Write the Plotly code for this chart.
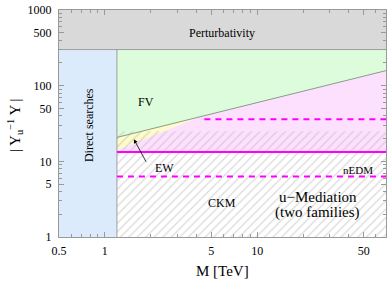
import numpy as np
import plotly.graph_objects as go

# ---- data ----
x_tick_vals = [0.5, 1, 5, 10, 50]
y_tick_vals = [1, 5, 10, 50, 100, 500, 1000]
x_minor = [0.6, 0.7, 0.8, 0.9, 2, 3, 4, 6, 7, 8, 9, 20, 30, 40, 60, 70]
y_minor = [2, 3, 4, 6, 7, 8, 9, 20, 30, 40, 60, 70, 80, 90, 200, 300, 400, 600, 700, 800, 900]

x_range = [0.5, 70]
y_range = [1, 1000]

direct_search_M = 1.2          # TeV
perturbativity_Y = 300

fv_M = [1.2, 4.2, 70]
fv_Y = [20.7, 38.7, 158]

ew_M = [1.2, 4.2]
ew_Y = [14.0, 38.7]

ckm_Y = 25
solid_Y = 13.3
dash_low_Y = 6.3
dash_high_Y = 36
dash_high_start_M = 4.5

SERIF = "Liberation Serif, Times New Roman, serif"
MAG = "#f0f"

fig = go.Figure()

def poly(xs, ys, color, **kw):
    fig.add_trace(go.Scatter(x=xs, y=ys, fill="toself", fillcolor=color,
                             mode="lines", line=dict(width=0), hoverinfo="skip",
                             showlegend=False, **kw))

# perturbativity (gray)
poly([x_range[0], x_range[1], x_range[1], x_range[0]],
     [perturbativity_Y, perturbativity_Y, y_range[1], y_range[1]], "#d9d9d9")
# direct searches (blue)
poly([x_range[0], direct_search_M, direct_search_M, x_range[0]],
     [y_range[0], y_range[0], perturbativity_Y, perturbativity_Y], "#dcebfc")
# FV (green)
poly([direct_search_M] + fv_M[1:] + [x_range[1], direct_search_M],
     [fv_Y[0]] + fv_Y[1:] + [perturbativity_Y, perturbativity_Y], "#dcfcdc")
# EW (yellow)
poly(fv_M[:2] + ew_M[::-1], fv_Y[:2] + ew_Y[::-1], "#fefbc8")
# pink
poly(ew_M + fv_M[2:] + [x_range[1], direct_search_M],
     ew_Y + fv_Y[2:] + [solid_Y, solid_Y], "#fde0fd")
# white below solid
poly([direct_search_M, x_range[1], x_range[1], direct_search_M],
     [y_range[0], y_range[0], solid_Y, solid_Y], "white")
# CKM hatch
fig.add_trace(go.Scatter(
    x=[direct_search_M, x_range[1], x_range[1], direct_search_M],
    y=[y_range[0], y_range[0], ckm_Y, ckm_Y], fill="toself",
    fillcolor="rgba(0,0,0,0)", mode="lines", line=dict(width=0),
    fillpattern=dict(shape="/", fgcolor="#b8b8b8", bgcolor="rgba(0,0,0,0)",
                     size=6, solidity=0.22),
    hoverinfo="skip", showlegend=False))

# boundary lines
fig.add_trace(go.Scatter(x=fv_M, y=fv_Y, mode="lines",
                         line=dict(color="#8a9a8a", width=1), showlegend=False))
fig.add_trace(go.Scatter(x=[direct_search_M, direct_search_M],
                         y=[y_range[0], perturbativity_Y], mode="lines",
                         line=dict(color="#8a8a8a", width=0.8), showlegend=False))
fig.add_trace(go.Scatter(x=[x_range[0], x_range[1]],
                         y=[perturbativity_Y, perturbativity_Y], mode="lines",
                         line=dict(color="#8a8a8a", width=0.8), showlegend=False))
# magenta lines
fig.add_trace(go.Scatter(x=[direct_search_M, x_range[1]], y=[solid_Y, solid_Y],
                         mode="lines", line=dict(color=MAG, width=2), showlegend=False))
fig.add_trace(go.Scatter(x=[direct_search_M, x_range[1]], y=[dash_low_Y, dash_low_Y],
                         mode="lines", line=dict(color=MAG, width=2, dash="6px,5px"),
                         showlegend=False))
fig.add_trace(go.Scatter(x=[dash_high_start_M, x_range[1]], y=[dash_high_Y, dash_high_Y],
                         mode="lines", line=dict(color=MAG, width=2, dash="6px,5px"),
                         showlegend=False))

def txt(x, y, s, size=11, **kw):
    fig.add_annotation(x=np.log10(x), y=np.log10(y), text=s, showarrow=False,
                       font=dict(family=SERIF, size=size, color="black"), **kw)

txt(5.9, 500, "Perturbativity", 12)
txt(1.85, 61, "FV", 12)
txt(2.45, 8.2, "EW", 12)
txt(5.9, 2.8, "CKM", 12)
txt(46, 7.8, "nEDM", 11)
txt(25, 3.4, "u\u2212Mediation", 15)
txt(25, 2.12, "(two families)", 15)
txt(0.785, 30, "Direct searches", 12, textangle=-90)
# EW arrow
fig.add_annotation(x=np.log10(1.55), y=np.log10(19.6), ax=13, ay=24, text="",
                   showarrow=True, arrowhead=2, arrowsize=1, arrowwidth=0.8,
                   arrowcolor="black")
# axis titles
fig.add_annotation(xref="paper", yref="paper", x=(15 - 59) / 327, y=0.493,
                   xanchor="center", yanchor="middle",
                   text="| Y<sub>u</sub><sup>\u22121</sup> Y |", textangle=-90,
                   showarrow=False, font=dict(family=SERIF, size=15, color="black"))
fig.add_annotation(xref="paper", yref="paper", x=(222 - 59) / 327, y=(237 - 271) / 227,
                   xanchor="center", yanchor="middle",
                   text="M [TeV]", showarrow=False,
                   font=dict(family=SERIF, size=15, color="black"))

axis_common = dict(type="log", showgrid=False, zeroline=False, showline=True,
                   linecolor="#999", linewidth=1, mirror="ticks", ticks="inside",
                   ticklen=5, tickcolor="#999", layer="above traces",
                   automargin=False,
                   tickfont=dict(family=SERIF, size=12, color="black"))

fig.update_layout(
    width=390, height=290, margin=dict(l=59, r=4, t=10, b=53, autoexpand=False),
    paper_bgcolor="white", plot_bgcolor="white", showlegend=False,
    xaxis=dict(range=[np.log10(x_range[0]), np.log10(x_range[1])],
               tickvals=x_tick_vals, ticktext=[str(v) for v in x_tick_vals],
               minor=dict(tickvals=x_minor, ticks="inside", ticklen=3, tickcolor="#999"),
               ticklabelstandoff=3,
               **axis_common),
    yaxis=dict(range=[np.log10(y_range[0]), np.log10(y_range[1])],
               tickvals=y_tick_vals, ticktext=[str(v) for v in y_tick_vals],
               minor=dict(tickvals=y_minor, ticks="inside", ticklen=3, tickcolor="#999"),
               ticklabelstandoff=4,
               **axis_common),
)

fig.write_html("out.html", config={"displayModeBar": False})
with open("out.html", encoding="utf-8") as f:
    html = f.read()
html = html.replace("<head>", "<head><style>html,body{margin:0;padding:0;overflow:hidden}</style>", 1)
with open("out.html", "w", encoding="utf-8") as f:
    f.write(html)
